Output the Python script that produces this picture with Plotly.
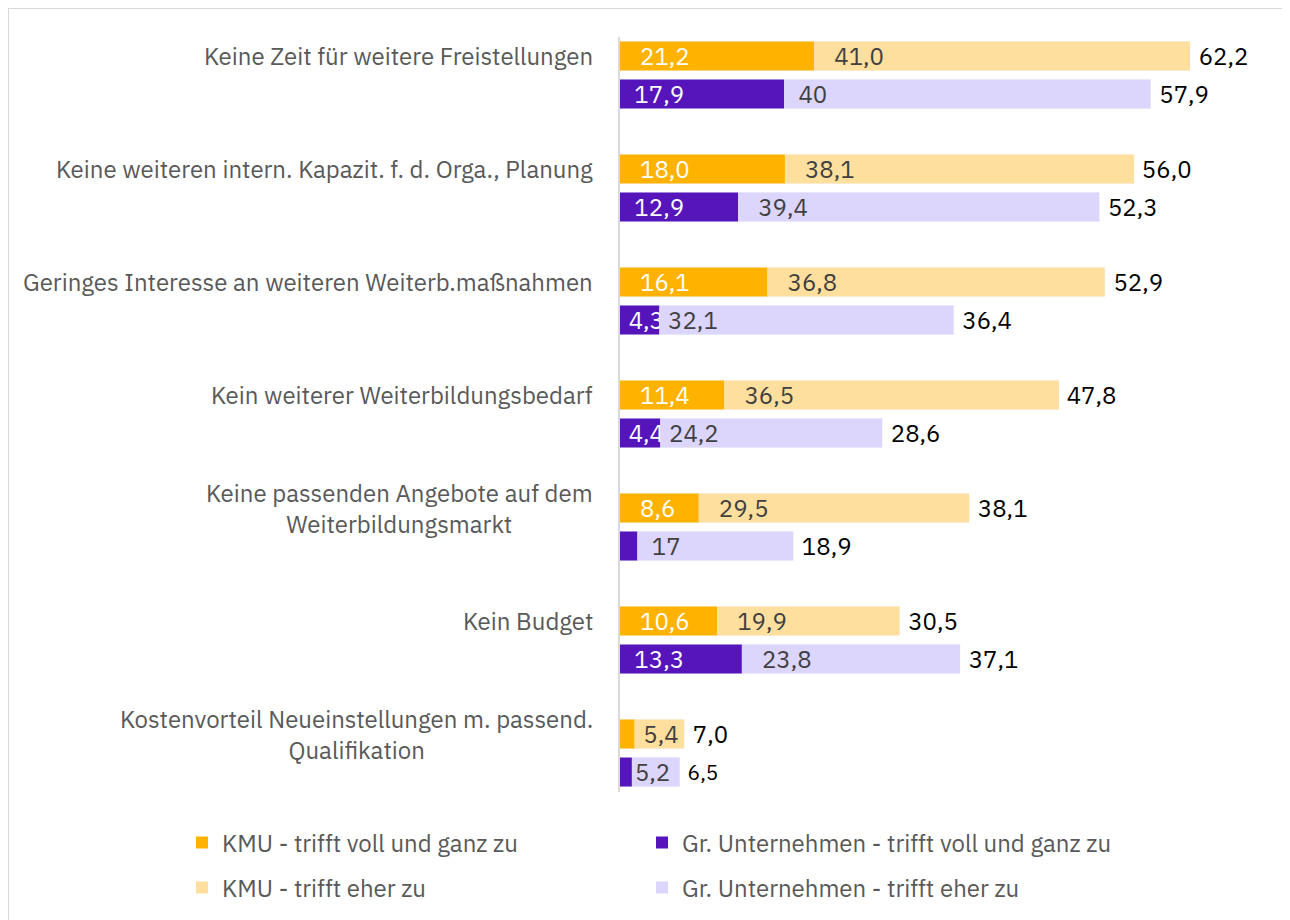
import plotly.graph_objects as go

categories = [
    "Keine Zeit für weitere Freistellungen",
    "Keine weiteren intern. Kapazit. f. d. Orga., Planung",
    "Geringes Interesse an weiteren Weiterb.maßnahmen",
    "Kein weiterer Weiterbildungsbedarf",
    "Keine passenden Angebote auf dem<br>Weiterbildungsmarkt",
    "Kein Budget",
    "Kostenvorteil Neueinstellungen m. passend.<br>Qualifikation",
]

kmu_voll = [21.2, 18.0, 16.1, 11.4, 8.6, 10.6, 1.6]
kmu_eher = [41.0, 38.1, 36.8, 36.5, 29.5, 19.9, 5.4]
kmu_total = [62.2, 56.0, 52.9, 47.8, 38.1, 30.5, 7.0]
gr_voll = [17.9, 12.9, 4.3, 4.4, 1.9, 13.3, 1.3]
gr_eher = [40.0, 39.4, 32.1, 24.2, 17.0, 23.8, 5.2]
gr_total = [57.9, 52.3, 36.4, 28.6, 18.9, 37.1, 6.5]

kmu_voll_lbl = ["21,2", "18,0", "16,1", "11,4", "8,6", "10,6", ""]
kmu_eher_lbl = ["41,0", "38,1", "36,8", "36,5", "29,5", "19,9", "5,4"]
kmu_total_lbl = ["62,2", "56,0", "52,9", "47,8", "38,1", "30,5", "7,0"]
gr_voll_lbl = ["17,9", "12,9", "4,3", "4,4", "", "13,3", ""]
gr_eher_lbl = ["40", "39,4", "32,1", "24,2", "17", "23,8", "5,2"]
gr_total_lbl = ["57,9", "52,3", "36,4", "28,6", "18,9", "37,1", "6,5"]

C_KMU_V = "#FFB300"
C_KMU_E = "#FFDF9E"
C_GR_V = "#5515BB"
C_GR_E = "#DCD5FC"

FONT = "IBM Plex Sans, Noto Sans, sans-serif"
FS = 24
NB = "\u00a0"

W, H = 1290, 920
L, R, T, B = 612, 20, 29, 136
PW, PH = W - L - R, H - T - B


def px_x(px):
    return (px - L) / PW


def px_y(py):
    return (H - B - py) / PH


def padded(labels, pads):
    return [NB * p + t if t else "" for t, p in zip(labels, pads)]


# leading padding (in no-break spaces) of the inside labels
kmu_voll_pad = [3, 3, 3, 3, 3, 3, 0]
kmu_eher_pad = [3, 3, 3, 3, 3, 3, 1]
gr_voll_pad = [2, 2, 1, 1, 0, 2, 0]
gr_eher_pad = [2, 3, 1, 1, 2, 3, 0]

fig = go.Figure()

# KMU group
fig.add_trace(go.Bar(
    y=categories, x=kmu_total, orientation="h", offsetgroup="kmu",
    marker=dict(color="rgba(0,0,0,0)"), text=[NB + t for t in kmu_total_lbl],
    textposition="outside", textfont=dict(color="#000000", size=FS),
    cliponaxis=False, showlegend=False, hoverinfo="skip", constraintext="none",
))
fig.add_trace(go.Bar(
    y=categories, x=kmu_voll, orientation="h", offsetgroup="kmu",
    name="KMU - trifft voll und ganz zu", marker=dict(color=C_KMU_V, line=dict(width=0)),
    text=padded(kmu_voll_lbl, kmu_voll_pad), textposition="inside",
    insidetextanchor="start", constraintext="none",
    textfont=dict(color="#FFFFFF", size=FS), legend="legend",
))
fig.add_trace(go.Bar(
    y=categories, x=kmu_eher, base=kmu_voll, orientation="h", offsetgroup="kmu",
    name="KMU - trifft eher zu", marker=dict(color=C_KMU_E, line=dict(width=0)),
    text=padded(kmu_eher_lbl, kmu_eher_pad), textposition="inside",
    insidetextanchor="start", constraintext="none",
    textfont=dict(color="#404040", size=FS), legend="legend3",
))
# Gr. Unternehmen group
fig.add_trace(go.Bar(
    y=categories, x=gr_total, orientation="h", offsetgroup="gr",
    marker=dict(color="rgba(0,0,0,0)"), text=[NB + t for t in gr_total_lbl],
    textposition="outside",
    textfont=dict(color="#000000", size=[FS, FS, FS, FS, FS, FS, 21]),
    cliponaxis=False, showlegend=False, hoverinfo="skip", constraintext="none",
))
fig.add_trace(go.Bar(
    y=categories, x=gr_voll, orientation="h", offsetgroup="gr",
    name="Gr. Unternehmen - trifft voll und ganz zu", marker=dict(color=C_GR_V, line=dict(width=0)),
    text=padded(gr_voll_lbl, gr_voll_pad), textposition="inside",
    insidetextanchor="start", constraintext="none",
    textfont=dict(color="#FFFFFF", size=FS), legend="legend2",
))
fig.add_trace(go.Bar(
    y=categories, x=gr_eher, base=gr_voll, orientation="h", offsetgroup="gr",
    name="Gr. Unternehmen - trifft eher zu", marker=dict(color=C_GR_E, line=dict(width=0)),
    text=padded(gr_eher_lbl, gr_eher_pad), textposition="inside",
    insidetextanchor="start", constraintext="none",
    textfont=dict(color="#404040", size=FS), legend="legend4",
))

annotations = []
for c in categories:
    annotations.append(dict(
        x=0, xref="x", y=c, yref="y", xanchor="right", yanchor="middle",
        xshift=-25, yshift=19, text=c, showarrow=False, align="center",
        font=dict(family=FONT, size=FS, color="#595959"),
    ))

legend_common = dict(
    orientation="v", xanchor="left", yanchor="middle",
    font=dict(family=FONT, size=FS, color="#595959"),
    bgcolor="rgba(0,0,0,0)", itemclick=False, itemdoubleclick=False,
)

fig.update_layout(
    width=W, height=H,
    margin=dict(l=L, r=R, t=T, b=B),
    paper_bgcolor="white", plot_bgcolor="white",
    barmode="group", bargap=0.327, bargroupgap=0.237,
    font=dict(family=FONT, size=FS),
    xaxis=dict(range=[0, PW / 9.164], visible=False, fixedrange=True),
    yaxis=dict(
        autorange=False, range=[6.345, -0.336], showticklabels=False,
        showline=True, linecolor="#D9D9D9", linewidth=2, showgrid=False,
        ticks="", zeroline=False,
    ),
    annotations=annotations,
    legend=dict(x=px_x(174), y=px_y(835), **legend_common),
    legend2=dict(x=px_x(634), y=px_y(835), **legend_common),
    legend3=dict(x=px_x(174), y=px_y(880), **legend_common),
    legend4=dict(x=px_x(634), y=px_y(880), **legend_common),
    shapes=[
        dict(type="line", xref="paper", yref="paper", x0=px_x(0), x1=px_x(1300),
             y0=px_y(0), y1=px_y(0), line=dict(color="#D9D9D9", width=2)),
        dict(type="line", xref="paper", yref="paper", x0=px_x(0), x1=px_x(0),
             y0=px_y(0), y1=px_y(930), line=dict(color="#D9D9D9", width=2)),
    ],
    showlegend=True,
)

fig.write_html("out.html")
